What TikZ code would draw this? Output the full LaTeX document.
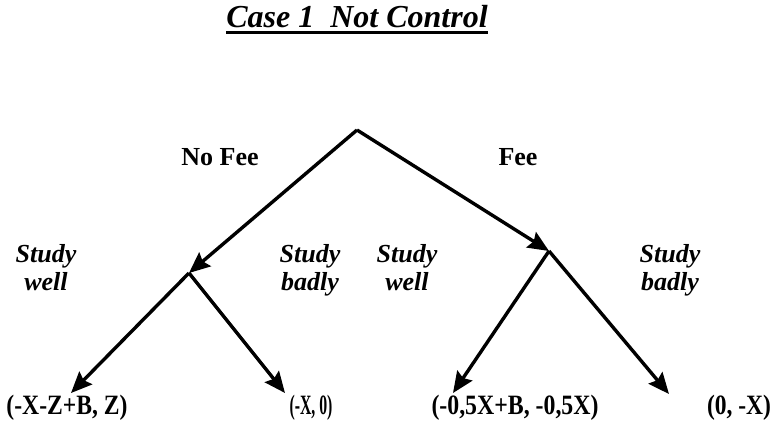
\documentclass[tikz,border=0pt]{standalone}
\usepackage{fontspec}
\setmainfont{Liberation Serif}
\usetikzlibrary{arrows.meta}
\begin{document}
\begin{tikzpicture}[x=1pt,y=-1pt,
  arr/.style={line width=3.4pt,-{Stealth[length=21pt,width=18pt,inset=3pt]}},
  lbl/.style={font=\fontsize{26}{28}\selectfont\bfseries, inner sep=0pt, anchor=base},
  act/.style={font=\fontsize{26}{28}\selectfont\bfseries\itshape, inner sep=0pt, anchor=north, align=center},
  pay/.style={font=\fontsize{28}{30}\selectfont\bfseries, inner sep=0pt, anchor=base}]
\useasboundingbox (0,0) rectangle (774,437);
% title
\node[font=\fontsize{32}{34}\selectfont\bfseries\itshape, inner sep=0pt, anchor=base] (title) at (357,27) {Case 1\ \ Not Control};
\draw[line width=2.5pt] (226,32.5) -- (488,32.5);
% tree nodes
\coordinate (root) at (357,130);
\coordinate (L) at (189,273);
\coordinate (R) at (549,251);
\coordinate (LL) at (71,393);
\coordinate (LR) at (285,393);
\coordinate (RL) at (453,393);
\coordinate (RR) at (669,394);
\draw[arr] (root) -- (L);
\draw[arr] (root) -- (R);
\draw[arr] (L) -- (LL);
\draw[arr] (L) -- (LR);
\draw[arr] (R) -- (RL);
\draw[arr] (R) -- (RR);
% labels
\node[lbl] (nofee) at (220,165) {No Fee};
\node[lbl] (fee) at (518,165) {Fee};
\node[act] (sw1) at (46,244) {Study\\well};
\node[act] (sb1) at (310,244) {Study\\badly};
\node[act] (sw2) at (407,244) {Study\\well};
\node[act] (sb2) at (670,244) {Study\\badly};
% payoffs
\node[pay] (p1) at (67,414) {\resizebox{121pt}{\height}{(-X-Z+B, Z)}};
\node[pay] (p2) at (311,414) {\resizebox{43pt}{\height}{(-X, 0)}};
\node[pay] (p3) at (515,414) {\resizebox{167pt}{\height}{(-0,5X+B, -0,5X)}};
\node[pay] (p4) at (739,414) {\resizebox{64pt}{\height}{(0, -X)}};
\end{tikzpicture}
\end{document}
